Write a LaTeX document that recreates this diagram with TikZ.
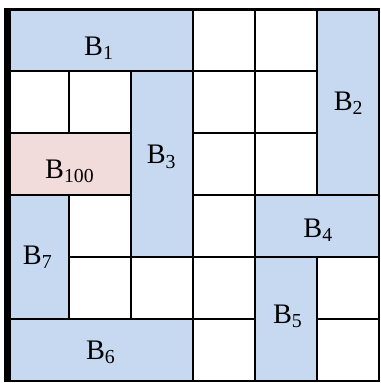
\documentclass[tikz,border=0pt]{standalone}
\usepackage{fontspec}
\setmainfont{Liberation Serif}
\usepackage{xcolor}
\usetikzlibrary{positioning}
\definecolor{bloccoblu}{HTML}{C6D9F1}
\definecolor{bloccorosa}{HTML}{F2DCDB}
\tikzset{
  blu/.style={fill=bloccoblu, draw=black, line width=0.9pt},
  rosa/.style={fill=bloccorosa, draw=black, line width=0.9pt},
  etichetta/.style={font=\fontsize{13}{15}\selectfont, inner sep=0pt},
}

\begin{document}
\begin{tikzpicture}
    \useasboundingbox (-0.121,-0.032) rectangle (6.021,6.153);

    % Griglia
    \draw[line width=0.9pt] (0,0) grid (6,6);

    % Blocchi
    \draw[blu] (0,5) rectangle (3,6);
    \draw[blu] (5,3) rectangle (6,6);
    \draw[blu] (2,2) rectangle (3,5);
    \draw[blu] (4,2) rectangle (6,3);
    \draw[blu] (4,0) rectangle (5,2);
    \draw[blu] (0,0) rectangle (3,1);
    \draw[blu] (0,1) rectangle (1,3);
    \draw[rosa] (0,3) rectangle (2,4);

    % Bordo
    \draw[line width=1.4pt] (0,6) -- (6,6);
    \draw[line width=1.2pt] (6,6) -- (6,0) -- (0,0);
    \draw[line width=2.8pt] (0,-0.02) -- (0,6.03);

    % Etichette
    \node[etichetta] (b1) at (1.48,5.37) {B\textsubscript{1}};
    \node[etichetta] (b2) at (5.51,4.49) {B\textsubscript{2}};
    \node[etichetta] (b3) at (2.49,3.62) {B\textsubscript{3}};
    \node[etichetta] (b4) at (5.02,2.44) {B\textsubscript{4}};
    \node[etichetta] (b5) at (4.53,1.04) {B\textsubscript{5}};
    \node[etichetta] (b6) at (1.51,0.46) {B\textsubscript{6}};
    \node[etichetta] (b7) at (0.49,2.00) {B\textsubscript{7}};
    \node[etichetta] (b100) at (1.01,3.39) {B\textsubscript{100}};
\end{tikzpicture}
\end{document}
